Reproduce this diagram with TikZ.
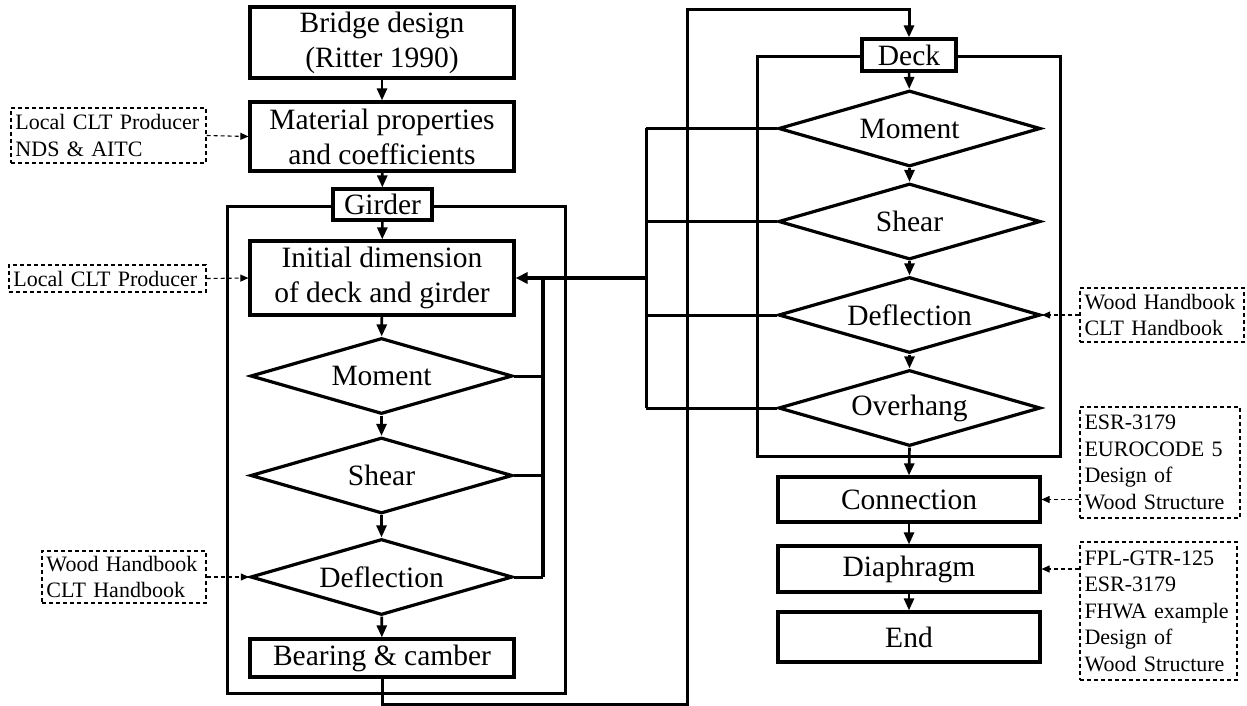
\documentclass[tikz,border=0pt]{standalone}
\usepackage{fontspec}
\setmainfont{Liberation Serif}
\usetikzlibrary{arrows.meta,shapes.geometric}
\begin{document}
\begin{tikzpicture}[x=1bp,y=-1bp,
  box/.style={draw, line width=3.2bp, fill=white, inner sep=0pt, align=center,
    font=\fontsize{29.5bp}{35bp}\selectfont},
  dia/.style={draw, diamond, line width=3.2bp, fill=white, inner sep=0pt,
    minimum width=262bp, minimum height=76bp, aspect=3.4,
    font=\fontsize{29.5bp}{35bp}\selectfont},
  frame/.style={draw, line width=3bp},
  refbox/.style={draw, line width=1.1bp, dash pattern=on 4bp off 3bp,
    inner xsep=4.5bp, inner ysep=0pt, align=left,
    font=\fontsize{22bp}{26.5bp}\selectfont},
  arr/.style={line width=2.6bp, -{Triangle[length=12bp,width=10bp]}},
  darr/.style={line width=1.1bp, dash pattern=on 4bp off 3bp, -{Triangle[length=8bp,width=7bp]}},
  fb/.style={line width=3bp},
  bus/.style={line width=4bp},
  loopline/.style={line width=3bp, -{Triangle[length=12bp,width=10bp]}}
]
\useasboundingbox (0,0) rectangle (1247,706);

% ---------- girder column ----------
\node[box, minimum width=264bp, minimum height=71bp] (bridge) at (382,42.5) {Bridge design\\(Ritter 1990)};
\node[box, minimum width=264bp, minimum height=69bp] (mat) at (382,136.5) {Material properties\\and coefficients};
\draw[frame] (227,207) rectangle (565,693);
\node[box, minimum width=99bp, minimum height=31bp] (girder) at (382.5,204.5) {Girder};
\node[box, minimum width=264bp, minimum height=74bp] (init) at (382,278) {Initial dimension\\of deck and girder};
\node[dia] (gmom) at (381.5,376) {Moment};
\node[dia] (gshear) at (381.5,475.5) {Shear};
\node[dia] (gdefl) at (381.5,577) {Deflection};
\node[box, minimum width=264bp, minimum height=38bp] (bear) at (382,658) {Bearing \& camber};

% ---------- deck column ----------
\draw[frame] (757,57) rectangle (1060,456);
\node[box, minimum width=94bp, minimum height=32bp] (deck) at (909,55) {Deck};
\node[dia] (dmom) at (909.5,128.5) {Moment};
\node[dia] (dshear) at (909.5,221.5) {Shear};
\node[dia] (ddefl) at (909.5,315) {Deflection};
\node[dia] (dover) at (909.5,408) {Overhang};
\node[box, minimum width=262bp, minimum height=45bp] (conn) at (909,499.5) {Connection};
\node[box, minimum width=262bp, minimum height=46bp] (diaph) at (909,569) {Diaphragm};
\node[box, minimum width=262bp, minimum height=50bp] (end) at (909,637) {End};

% ---------- reference boxes ----------
\node[refbox, text width=186bp, minimum height=55bp] (ref1) at (108.5,135.5) {Local CLT Producer\\NDS \& AITC};
\node[refbox, text width=188bp, minimum height=27bp] (ref2) at (107.5,278.5) {Local CLT Producer};
\node[refbox, text width=155bp, minimum height=52bp] (ref3) at (124,577) {Wood Handbook\\CLT Handbook};
\node[refbox, text width=155bp, minimum height=54bp] (ref4) at (1162,315) {Wood Handbook\\CLT Handbook};
\node[refbox, text width=151bp, minimum height=111bp] (ref5) at (1160,462.5) {ESR-3179\\EUROCODE 5\\Design of\\Wood Structure};
\node[refbox, text width=148bp, minimum height=138bp] (ref6) at (1158.5,611) {FPL-GTR-125\\ESR-3179\\FHWA example\\Design of\\Wood Structure};

% ---------- main flow arrows ----------
\draw[arr] (bridge) -- (mat);
\draw[arr] (mat) -- (girder);
\draw[arr] (girder) -- (init);
\draw[arr] (init) -- (gmom);
\draw[arr] (gmom) -- (gshear);
\draw[arr] (gshear) -- (gdefl);
\draw[arr] (gdefl) -- (bear);
\draw[arr] (deck) -- (dmom);
\draw[arr] (dmom) -- (dshear);
\draw[arr] (dshear) -- (ddefl);
\draw[arr] (ddefl) -- (dover);
\draw[arr] (dover.south) -- (conn.north);
\draw[arr] (conn) -- (diaph);
\draw[arr] (diaph) -- (end);

% ---------- loop from girder to deck ----------
\coordinate (lpb) at (687,704);
\coordinate (lpt) at (687,10);
\draw[loopline] (bear.south) |- (lpb) -- (lpt) -| (deck.north);

% ---------- feedback buses ----------
\coordinate (gbus) at (543,0);
\coordinate (dbus) at (646,0);
\draw[fb] (gmom.east) -- (gmom.east -| gbus);
\draw[fb] (gshear.east) -- (gshear.east -| gbus);
\draw[fb] (gdefl.east) -- (gdefl.east -| gbus);
\draw[bus] (gbus |- init.east) -- (gbus |- gdefl.east);
\draw[fb] (dmom.west) -- (dmom.west -| dbus);
\draw[fb] (dshear.west) -- (dshear.west -| dbus);
\draw[fb] (ddefl.west) -- (ddefl.west -| dbus);
\draw[fb] (dover.west) -- (dover.west -| dbus);
\draw[fb] (dbus |- dmom.west) -- (dbus |- dover.west);
\draw[bus, -{Triangle[length=12bp,width=11bp]}] (dbus |- init.east) -- (init.east);

% ---------- reference arrows ----------
\draw[darr] (ref1.east) -- (mat.west);
\draw[darr] (ref2.east) -- (init.west);
\draw[darr] (ref3.east) -- (gdefl.west);
\draw[darr] (ref4.west) -- (ddefl.east);
\draw[darr] (ref5.west |- conn.east) -- (conn.east);
\draw[darr] (ref6.west |- diaph.east) -- (diaph.east);
\end{tikzpicture}
\end{document}
